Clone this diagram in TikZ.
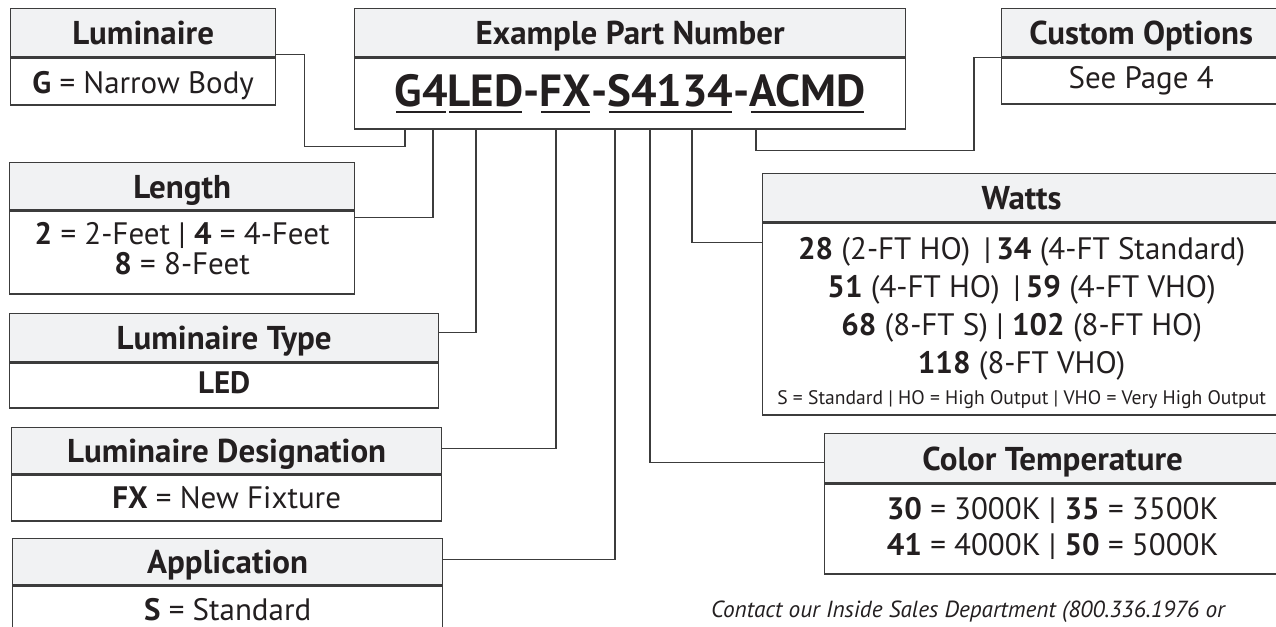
\documentclass[tikz,border=0pt]{standalone}
\usepackage{fontspec}
\setmainfont{PT Sans}
\usetikzlibrary{positioning}
\definecolor{boxline}{HTML}{3C3C3C}
\definecolor{hdrfill}{HTML}{F1F2F3}
\definecolor{ink}{HTML}{231F20}
\newcommand\ulseg[1]{\setbox0\hbox{#1}\rlap{\kern1.5pt\rule[-6pt]{\dimexpr\wd0-3pt\relax}{2pt}}\box0}
\newcommand\lowpad[1]{\rule[-#1]{0pt}{#1}}

\begin{document}
\begin{tikzpicture}[x=1pt,y=-1pt]
    \tikzset{hdr/.style = {draw=boxline, fill=hdrfill, line width=1.3pt, anchor=north west,
                           inner sep=0pt, minimum height=48pt, text=ink, text height=24pt,
                           text depth=0pt, font=\fontsize{33}{36}\selectfont\bfseries}}
    \tikzset{body/.style = {draw=boxline, line width=1.3pt, inner sep=0pt, align=center,
                            text=ink, font=\fontsize{31}{30}\selectfont}}
    \tikzset{link/.style = {draw=boxline, line width=1.3pt}}
    \useasboundingbox (0,0) rectangle (1276,626);
    \node[hdr, minimum width=551pt] (pnh) at (354,8) {Example Part Number};
    \node[body, minimum width=551pt, minimum height=71pt, below=0pt of pnh,
          font=\fontsize{45}{48}\selectfont\bfseries] (pnb)
          {\ulseg{G4}\ulseg{LED}-\ulseg{FX}-\ulseg{S4134}-\ulseg{ACMD}};
    \node[hdr, minimum width=265pt] (lumh) at (10,8) {Luminaire};
    \node[body, minimum width=265pt, minimum height=47pt, below=0pt of lumh] (lumb)
          {\textbf{G} = Narrow Body\rule{0pt}{30pt}};
    \node[hdr, minimum width=279pt] (cush) at (1001,8) {Custom Options};
    \node[body, minimum width=279pt, minimum height=46pt, below=0pt of cush] (cusb)
          {See Page 4};
    \node[hdr, minimum width=345pt, minimum height=47pt] (lenh) at (9,162) {Length};
    \node[body, minimum width=345pt, minimum height=83pt, below=0pt of lenh] (lenb)
          {\textbf{2} = 2-Feet | \textbf{4} = 4-Feet\\ \textbf{8} = 8-Feet\lowpad{9pt}};
    \node[hdr, minimum width=429pt] (typh) at (9,313) {Luminaire Type};
    \node[body, minimum width=429pt, minimum height=45pt, below=0pt of typh] (typb)
          {\textbf{LED}\lowpad{6pt}};
    \node[hdr, minimum width=430pt, minimum height=46pt] (desh) at (11,427) {Luminaire Designation};
    \node[body, minimum width=430pt, minimum height=46pt, below=0pt of desh] (desb)
          {\textbf{FX} = New Fixture};
    \node[hdr, minimum width=430pt, minimum height=46pt] (apph) at (12,538) {Application};
    \node[body, minimum width=430pt, minimum height=48pt, below=0pt of apph] (appb)
          {\textbf{S} = Standard};
    \node[hdr, minimum width=518pt] (wath) at (762,173) {Watts};
    \node[body, minimum width=518pt, minimum height=192pt, below=0pt of wath,
          font=\fontsize{31}{38}\selectfont] (watb)
          {\rule{0pt}{30pt}\textbf{28} (2-FT HO)\ \,|\,\textbf{34} (4-FT Standard)\\
           \textbf{51} (4-FT HO)\ \,|\,\textbf{59} (4-FT VHO)\\
           \textbf{68} (8-FT S) | \textbf{102} (8-FT HO)\\
           \textbf{118} (8-FT VHO)\\[-7pt]
           \fontsize{19.6}{28}\selectfont S = Standard | HO = High Output | VHO = Very High Output};
    \node[hdr, minimum width=456pt, minimum height=49pt] (colh) at (824,433) {Color Temperature};
    \node[body, minimum width=456pt, minimum height=90pt, below=0pt of colh,
          font=\fontsize{31}{36}\selectfont] (colb)
          {\textbf{30} = 3000K | \textbf{35} = 3500K\\ \textbf{41} = 4000K | \textbf{50} = 5000K\lowpad{6pt}};
    \node[text=ink, font=\fontsize{23.3}{28}\selectfont\itshape] (note) at (968,612)
          {Contact our Inside Sales Department (800.336.1976 or};
    \foreach \n/\x in {G/405,L/433,T/476,D/556,A/615,C/650,W/692,O/756}
        \coordinate (t\n) at (pnb.south -| \x,0);
    \draw[link] (tG) -- ++(0,17) -| ([xshift=28pt,yshift=3pt]lumh.south east)
                -- ([yshift=3pt]lumh.south east);
    \draw[link] (tL) |- ([yshift=-7pt]lenb.north east);
    \draw[link] (tT) |- ([yshift=5pt]typh.east);
    \draw[link] (tD) |- ([yshift=2pt]desh.east);
    \draw[link] (tA) |- ([yshift=2pt]apph.east);
    \draw[link] (tC) |- ([yshift=-4pt]colh.west);
    \draw[link] (tW) |- ([yshift=-20pt]watb.north west);
    \draw[link] (tO) -- ++(0,21) -| ([xshift=-27pt]cush.south west) -- (cush.south west);
\end{tikzpicture}
\end{document}
